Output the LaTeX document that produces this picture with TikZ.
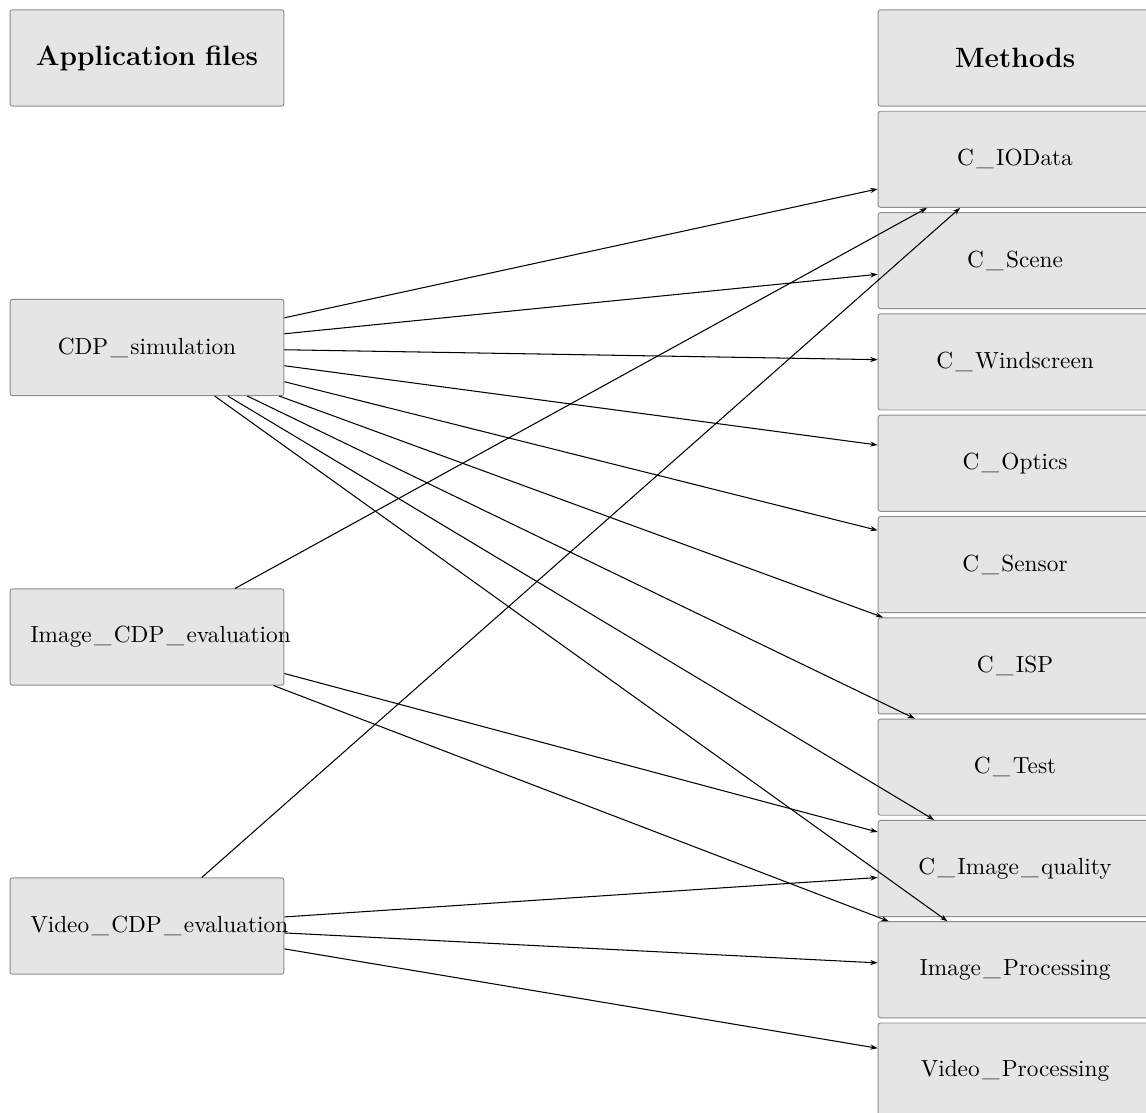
\documentclass[tikz,border=0pt]{standalone}
\usepackage{tikz}
\usetikzlibrary{arrows.meta}

\newcommand{\us}{\kern1pt\_\kern1pt}

\tikzset{
  box/.style={draw=black!45,fill=black!10,rounded corners=1pt,text width=3.52cm,
    align=center,inner xsep=0.305cm,minimum height=1.45cm,font=\fontsize{10}{12}\selectfont},
  headbox/.style={box,font=\fontsize{12}{14.4}\selectfont\bfseries},
  arr/.style={-{Stealth[length=3.2pt,width=2.2pt]},line width=0.45pt}
}

\begin{document}
\begin{tikzpicture}
  \useasboundingbox (0,0) rectangle (17.285,-16.787);
  % left column
  \node[headbox] (app) at (2.217,-0.875) {Application files};
  \node[box] (cdp) at (2.217,-5.241) {CDP\us simulation};
  \node[box] (imgeval) at (2.217,-9.608) {Image\us CDP\us evaluation};
  \node[box] (videval) at (2.217,-13.967) {Video\us CDP\us evaluation};
  % right column
  \node[headbox] (methods) at (15.31,-0.875) {Methods};
  \foreach \n/\t [count=\i] in {iodata/C\us IOData,scene/C\us Scene,windscreen/C\us Windscreen,
      optics/C\us Optics,sensor/C\us Sensor,isp/C\us ISP,test/C\us Test,
      imgquality/C\us Image\us quality,imgproc/Image\us Processing,vidproc/Video\us Processing}
    \node[box] (\n) at (15.31,{-0.875-1.528*\i}) {\t};
  % links
  \foreach \t in {iodata,scene,windscreen,optics,sensor,isp,test,imgquality,imgproc}
    \draw[arr] (cdp) -- (\t);
  \foreach \t in {iodata,imgquality,imgproc}
    \draw[arr] (imgeval) -- (\t);
  \foreach \t in {iodata,imgquality,imgproc,vidproc}
    \draw[arr] (videval) -- (\t);
\end{tikzpicture}
\end{document}
